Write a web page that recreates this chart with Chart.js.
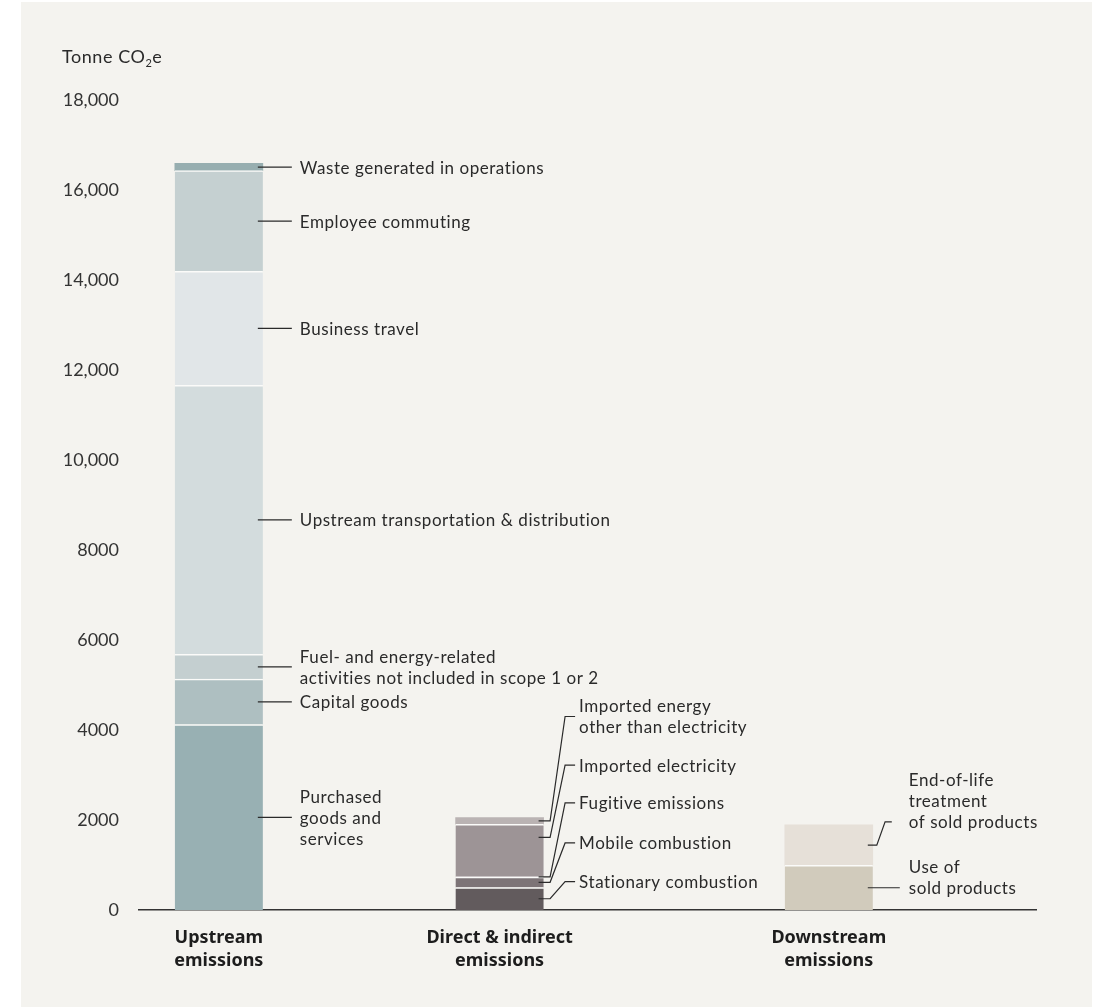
<!doctype html>
<html>
<head>
    <title>Emissions by scope category</title>
    <script src="https://cdn.jsdelivr.net/npm/chart.js@4.4.1/dist/chart.umd.min.js"></script>
    <style>
    body { margin: 0; background: #ffffff; }
    #wrap { position: absolute; left: 21px; top: 2px; width: 1071px; height: 1005px; background: #f4f3ef; }
    canvas { display: block; }
    </style>
</head>
<body>
    <div id="wrap">
        <canvas id="canvas" width="1071" height="1005"></canvas>
    </div>
    <script>
    // tonnes CO2e per category, bottom to top of each bar
    var groupLabels = [['Upstream', 'emissions'], ['Direct & indirect', 'emissions'], ['Downstream', 'emissions']];

    var upstreamNames = ['Purchased\ngoods and\nservices', 'Capital goods',
        'Fuel- and energy-related\nactivities not included in scope 1 or 2',
        'Upstream transportation & distribution', 'Business travel',
        'Employee commuting', 'Waste generated in operations'];
    var upstreamValues = [4120, 1010, 550, 5980, 2530, 2240, 160];

    var directNames = ['Stationary combustion', 'Mobile combustion', 'Fugitive emissions',
        'Imported electricity', 'Imported energy\nother than electricity'];
    var directValues = [500, 230, 15, 1160, 150];

    var downstreamNames = ['Use of\nsold products', 'End-of-life\ntreatment\nof sold products'];
    var downstreamValues = [990, 900];

    var yMax = 18000;
    var yStep = 2000;

    // colours
    var upstreamColors = ['#98b0b3', '#aebfc1', '#c4cfd0', '#d3dcdd', '#e1e6e8', '#c5d0d1', '#97aeb0'];
    var directColors = ['#625b5d', '#7d7477', '#8a8184', '#9d9496', '#bab3b3'];
    var downstreamColors = ['#d1cbbc', '#e6e0d8'];

    // where each bar sits along the x axis (0-100) and how its callouts are drawn
    var groupX = [8.9, 40.2, 76.9];
    var leaderShape = [
        { a: 10, b: 20, c: 29, d: 37 },
        { a: 6.5, b: 21.5, c: 31.5, d: 35.5 },
        { a: 4, b: 12.3, c: 19, d: 36 }
    ];
    // per-segment callout tweaks: at = y value the label sits at, pin = which text line the leader meets
    var calloutOpts = [
        [{}, {}, {}, {}, {}, {}, {}],
        [{ at: 630 }, { at: 1490 }, { at: 2380 }, { at: 3220, frac: 0.75 }, { at: 4300 }],
        [{ pin: 'last', c: 27 }, { at: 1960, pin: 'last' }]
    ];

    var FONT = 'Lato, "Noto Sans", sans-serif';
    var BOLD_FONT = '"Noto Sans", Lato, sans-serif';
    var INK = '#2a2a2a';

    var groups = [
        { names: upstreamNames, values: upstreamValues, colors: upstreamColors },
        { names: directNames, values: directValues, colors: directColors },
        { names: downstreamNames, values: downstreamValues, colors: downstreamColors }
    ];

    var datasets = [];
    groups.forEach(function(g, gi) {
        g.values.forEach(function(v, i) {
            var isTop = i === g.values.length - 1;
            datasets.push({
                label: g.names[i].replace(/\n/g, ' '),
                data: [{ x: groupX[gi], y: v }],
                backgroundColor: g.colors[i],
                borderColor: '#fbfbf9',
                borderWidth: { top: isTop ? 0 : 1.5, left: 0, right: 0, bottom: 0 },
                borderSkipped: 'start',
                barThickness: 88,
                _group: gi,
                _index: i
            });
        });
    });

    var callouts = {
        id: 'callouts',
        afterDatasetsDraw: function(chart) {
            var ctx = chart.ctx;
            var yScale = chart.scales.y;
            ctx.save();
            ctx.strokeStyle = INK;
            ctx.lineWidth = 1.2;
            ctx.fillStyle = INK;
            ctx.font = '17px ' + FONT;
            ctx.letterSpacing = '0.55px';
            ctx.textBaseline = 'middle';
            ctx.textAlign = 'left';
            var lh = 21;

            chart.data.datasets.forEach(function(ds, di) {
                var el = chart.getDatasetMeta(di).data[0];
                if (!el) return;
                var gi = ds._group;
                var opt = calloutOpts[gi][ds._index] || {};
                var shape = leaderShape[gi];
                var frac = opt.frac != null ? opt.frac : 0.5;
                var segY = el.base + (el.y - el.base) * frac;
                var right = el.x + el.width / 2;
                var textY = opt.at != null ? yScale.getPixelForValue(opt.at) : segY;
                var c = opt.c != null ? opt.c : shape.c;

                ctx.beginPath();
                ctx.moveTo(right - 5, segY);
                if (Math.abs(textY - segY) > 0.5) {
                    ctx.lineTo(right + shape.a, segY);
                    ctx.lineTo(right + shape.b, textY);
                }
                ctx.lineTo(right + c, textY);
                ctx.stroke();

                var lines = groups[gi].names[ds._index].split('\n');
                var n = lines.length;
                lines.forEach(function(line, li) {
                    var ly = opt.pin === 'last' ? textY - (n - 1 - li) * lh : textY + (li - (n - 1) / 2) * lh;
                    ctx.fillText(line, right + shape.d, ly + 1);
                });
            });

            // axis title with subscript
            var x = 41, base = 61;
            ctx.textBaseline = 'alphabetic';
            ctx.font = '18px ' + FONT;
            ctx.fillText('Tonne CO', x, base);
            x += ctx.measureText('Tonne CO').width;
            ctx.font = '11px ' + FONT;
            ctx.fillText('2', x, base + 4);
            x += ctx.measureText('2').width;
            ctx.font = '18px ' + FONT;
            ctx.fillText('e', x, base);
            ctx.restore();
        }
    };

    var config = {
        type: 'bar',
        data: { datasets: datasets },
        plugins: [callouts],
        options: {
            responsive: false,
            animation: false,
            devicePixelRatio: 1,
            layout: { padding: { top: 98, right: 56, left: 0, bottom: 0 } },
            plugins: {
                legend: { display: false },
                tooltip: { enabled: false }
            },
            scales: {
                x: {
                    type: 'linear',
                    min: 0,
                    max: 100,
                    stacked: true,
                    offset: false,
                    grid: { display: false, drawTicks: false },
                    border: { display: true, color: '#333333', width: 1.5 },
                    afterBuildTicks: function(axis) {
                        axis.ticks = groupX.map(function(v) { return { value: v }; });
                    },
                    afterFit: function(axis) { axis.height = 97; },
                    ticks: {
                        autoSkip: false,
                        maxRotation: 0,
                        padding: 16,
                        color: '#1d1d1d',
                        font: { family: BOLD_FONT, size: 18, weight: 'bold', lineHeight: 1.3 },
                        callback: function(value, index) { return groupLabels[index]; }
                    }
                },
                y: {
                    stacked: true,
                    min: 0,
                    max: yMax,
                    grid: { display: false, drawTicks: false },
                    border: { display: false },
                    afterFit: function(axis) { axis.width = 118; },
                    ticks: {
                        stepSize: yStep,
                        padding: 20,
                        color: '#333333',
                        font: { family: FONT, size: 18 },
                        callback: function(v) {
                            return v >= 10000 ? v.toLocaleString('en-US') : String(v);
                        }
                    }
                }
            }
        }
    };

    window.onload = function() {
        window.myChart = new Chart(document.getElementById('canvas'), config);
    };
    </script>
</body>
</html>
